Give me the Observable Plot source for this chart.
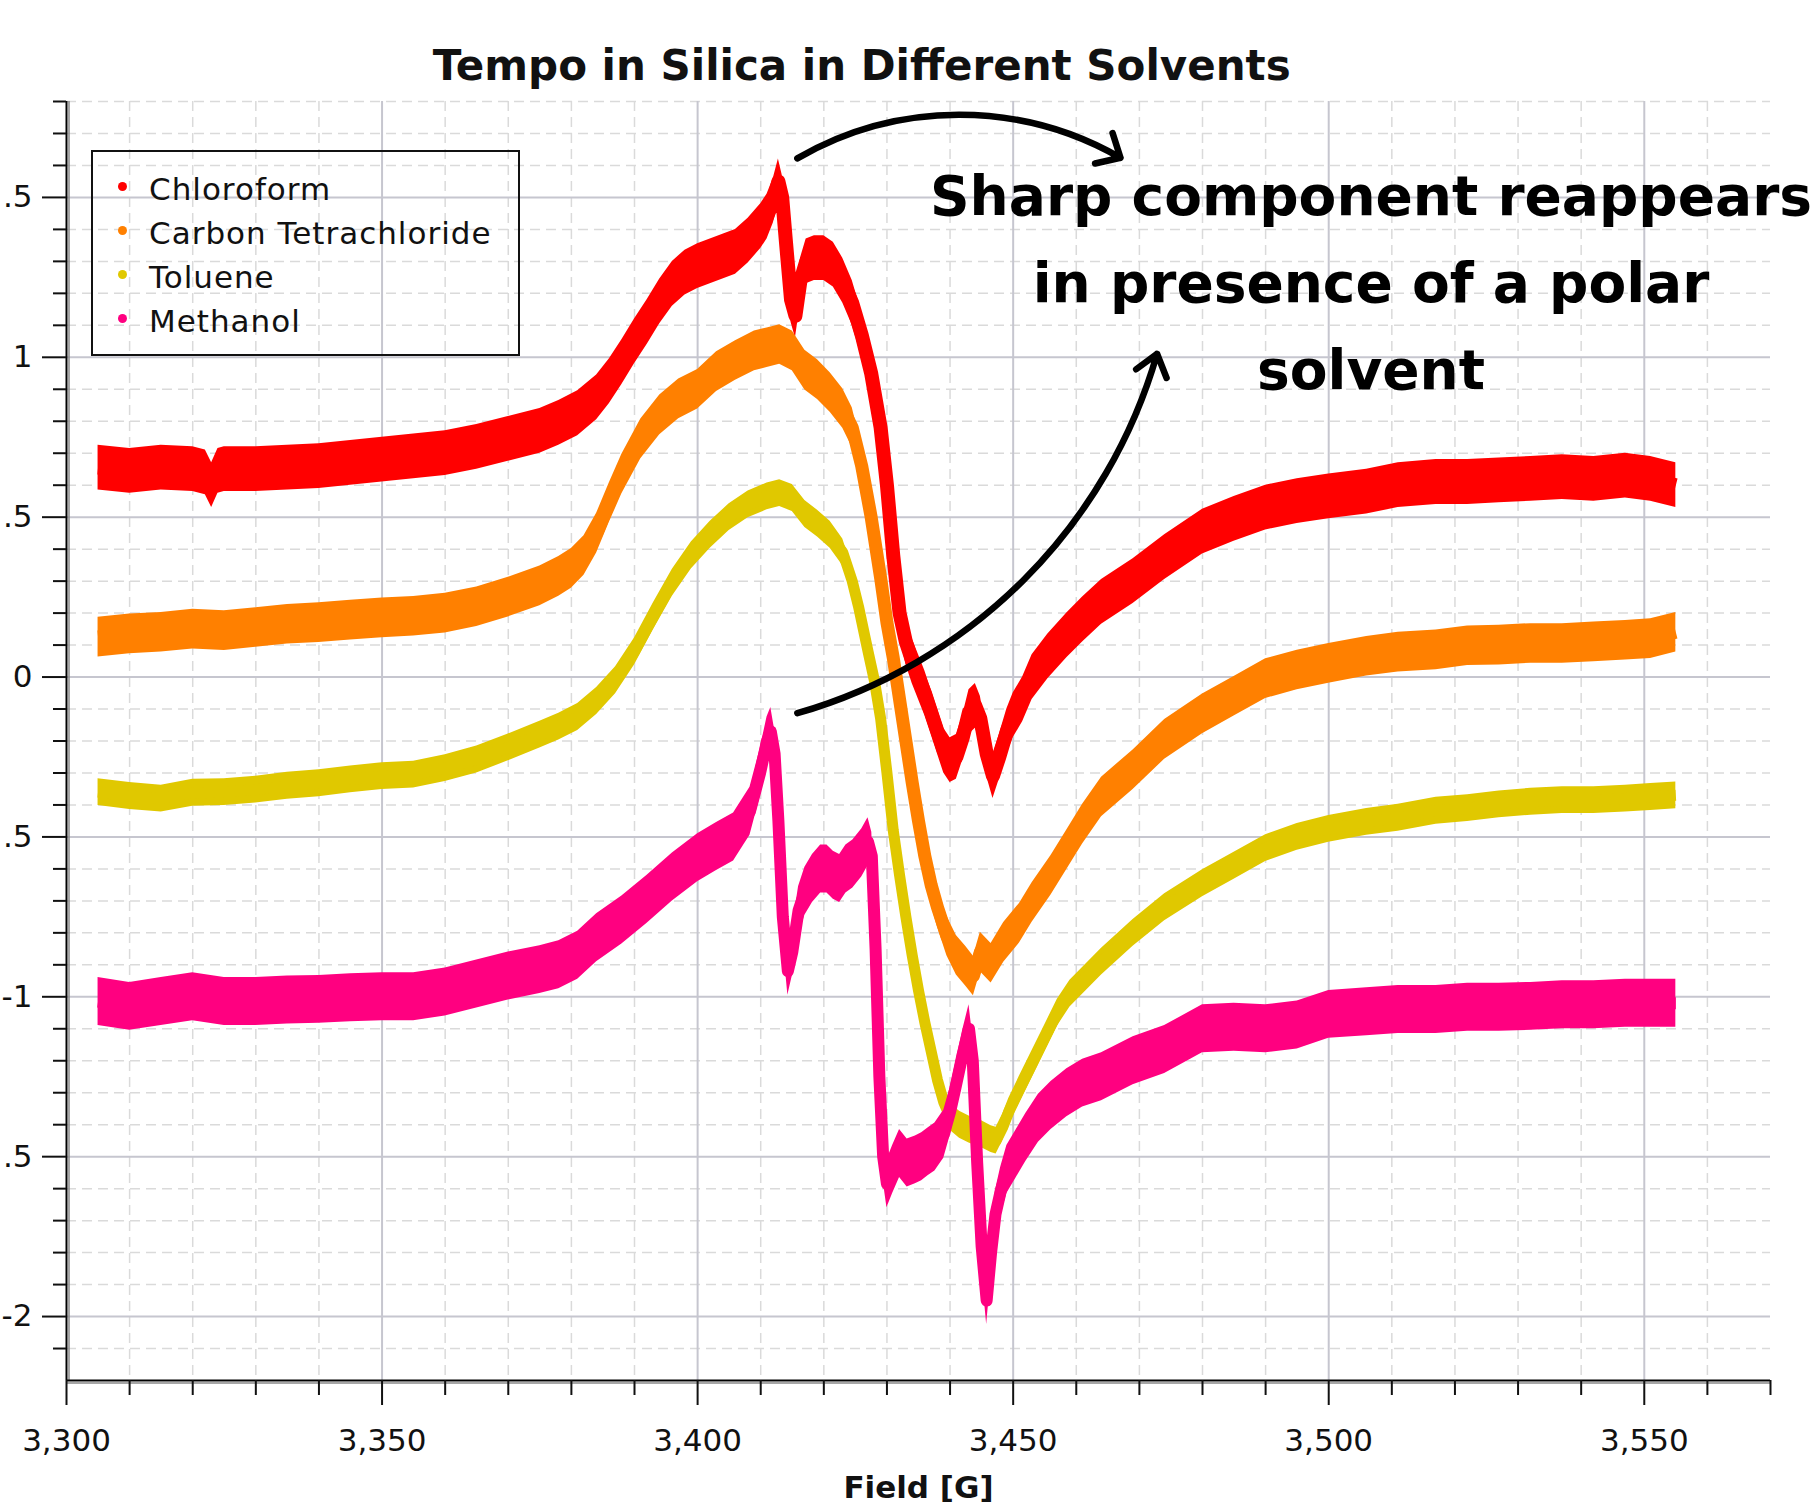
<!DOCTYPE html>
<html>
<head>
<meta charset="utf-8">
<script src="https://cdn.jsdelivr.net/npm/d3@7"></script>
<script src="https://cdn.jsdelivr.net/npm/@observablehq/plot@0.6"></script>
<style>
  html, body { margin: 0; padding: 0; background: #fff; }
  #wrap { position: relative; width: 1816px; height: 1507px; overflow: hidden; background: #fff; }
  #legend { position: absolute; left: 91px; top: 150px; width: 429px; height: 206px; box-sizing: border-box;
            border: 2px solid #111; padding-top: 15px; }
  #legend .item { position: relative; height: 44px; line-height: 44px; padding-left: 56px;
                  font-family: "DejaVu Sans"; font-size: 31px; letter-spacing: 1px; color: #111; white-space: nowrap; }
  #legend .dot { position: absolute; left: 25px; top: 14.5px; width: 9px; height: 9px; border-radius: 50%; }
</style>
</head>
<body>
<div id="wrap"></div>
<script>
// ---------- data (Field [G], signal) ----------
const solvents = ["Chloroform", "Carbon Tetrachloride", "Toluene", "Methanol"];
const colors = ["#ff0000", "#ff8000", "#e0c800", "#ff0080"];
// half thickness of the noise band of each trace (signal units)
const noiseHalfWidth = [0.070, 0.062, 0.042, 0.075];

const chloroform = [[3305,0.655],[3310,0.645],[3315,0.655],[3320,0.65],[3322,0.64],[3323,0.60],[3324,0.645],[3325,0.65],[3330,0.65],[3335,0.655],[3340,0.66],[3345,0.67],[3350,0.68],[3355,0.69],[3360,0.70],[3365,0.72],[3370,0.745],[3375,0.77],[3378,0.795],[3381,0.825],[3384,0.875],[3386,0.925],[3388,0.985],[3390,1.05],[3392,1.11],[3394,1.175],[3396,1.23],[3398,1.265],[3400,1.285],[3402,1.30],[3404,1.315],[3406,1.33],[3408,1.365],[3410,1.41],[3411,1.44],[3412,1.49],[3412.8,1.55],[3413.4,1.50],[3414,1.36],[3414.8,1.18],[3415.5,1.13],[3416.3,1.24],[3417.2,1.30],[3418.5,1.31],[3420,1.31],[3421.5,1.29],[3423,1.24],[3424.5,1.17],[3426,1.07],[3427.5,0.95],[3429,0.78],[3430,0.60],[3431,0.38],[3432,0.20],[3433,0.11],[3434,0.05],[3435,0.0],[3436,-0.05],[3437,-0.11],[3438,-0.17],[3439,-0.23],[3440,-0.26],[3441,-0.25],[3442,-0.19],[3443,-0.11],[3444,-0.09],[3444.8,-0.13],[3445.8,-0.24],[3446.8,-0.31],[3447.8,-0.25],[3449,-0.17],[3450,-0.12],[3451.5,-0.07],[3453,0.0],[3455.5,0.065],[3458.5,0.13],[3461,0.18],[3464,0.235],[3469,0.30],[3474,0.375],[3480,0.455],[3485,0.495],[3490,0.53],[3495,0.55],[3500,0.565],[3506,0.58],[3511,0.60],[3517,0.61],[3522,0.61],[3527,0.615],[3532,0.62],[3537,0.625],[3542,0.62],[3547,0.63],[3551,0.62],[3555,0.60]];

const carbonTetrachloride = [[3305,0.125],[3310,0.135],[3315,0.14],[3320,0.15],[3325,0.145],[3330,0.155],[3335,0.165],[3340,0.17],[3345,0.178],[3350,0.185],[3355,0.19],[3360,0.20],[3365,0.22],[3370,0.25],[3375,0.285],[3378,0.315],[3380,0.34],[3382,0.38],[3384,0.45],[3386,0.545],[3388,0.635],[3391,0.745],[3394,0.82],[3397,0.87],[3400,0.90],[3403,0.955],[3406,0.99],[3409,1.02],[3411,1.03],[3413,1.04],[3415,1.02],[3417,0.96],[3419,0.93],[3421,0.89],[3423,0.84],[3424.5,0.78],[3426,0.66],[3427.5,0.50],[3429,0.31],[3430,0.17],[3431,0.06],[3432,-0.07],[3433,-0.2],[3434,-0.33],[3435,-0.45],[3436,-0.56],[3437,-0.65],[3438,-0.72],[3439.5,-0.81],[3441,-0.87],[3442.5,-0.905],[3443.7,-0.935],[3444.8,-0.86],[3446.5,-0.895],[3448.5,-0.83],[3451,-0.77],[3453,-0.705],[3456,-0.62],[3458.5,-0.54],[3461,-0.46],[3464,-0.375],[3469,-0.29],[3474,-0.195],[3480,-0.115],[3485,-0.06],[3490,-0.005],[3495,0.022],[3500,0.043],[3506,0.065],[3511,0.078],[3517,0.085],[3522,0.098],[3527,0.10],[3532,0.105],[3537,0.105],[3542,0.11],[3547,0.115],[3551,0.12],[3555,0.14]];

const toluene = [[3305,-0.36],[3310,-0.372],[3315,-0.38],[3320,-0.362],[3325,-0.36],[3330,-0.352],[3335,-0.34],[3340,-0.332],[3345,-0.32],[3350,-0.31],[3355,-0.305],[3360,-0.285],[3365,-0.258],[3370,-0.22],[3375,-0.18],[3378,-0.155],[3381,-0.125],[3384,-0.075],[3387,-0.01],[3390,0.08],[3393,0.19],[3396,0.295],[3399,0.38],[3402,0.445],[3405,0.50],[3408,0.54],[3411,0.565],[3413,0.575],[3415,0.56],[3417,0.51],[3419,0.48],[3421,0.445],[3423,0.39],[3424.5,0.30],[3425.5,0.22],[3427,0.08],[3428,-0.01],[3429,-0.13],[3430,-0.30],[3431,-0.48],[3432,-0.62],[3433,-0.75],[3434,-0.87],[3435,-0.98],[3436,-1.08],[3437,-1.17],[3438,-1.26],[3439,-1.33],[3440,-1.375],[3441.5,-1.40],[3443,-1.415],[3445,-1.43],[3446.5,-1.445],[3447.3,-1.45],[3448.3,-1.41],[3449.3,-1.36],[3451,-1.29],[3453,-1.21],[3455,-1.13],[3457,-1.05],[3459,-0.99],[3461.5,-0.94],[3464,-0.89],[3469,-0.80],[3474,-0.72],[3480,-0.645],[3485,-0.59],[3490,-0.535],[3495,-0.50],[3500,-0.475],[3506,-0.453],[3511,-0.44],[3517,-0.418],[3522,-0.41],[3527,-0.398],[3532,-0.39],[3537,-0.385],[3542,-0.385],[3547,-0.38],[3551,-0.375],[3555,-0.37]];

const methanol = [[3305,-1.015],[3310,-1.03],[3315,-1.015],[3320,-1.0],[3325,-1.015],[3330,-1.015],[3335,-1.01],[3340,-1.008],[3345,-1.003],[3350,-1.0],[3355,-1.0],[3360,-0.985],[3365,-0.96],[3370,-0.935],[3375,-0.915],[3378,-0.9],[3381,-0.87],[3384,-0.815],[3388,-0.76],[3392,-0.695],[3396,-0.625],[3400,-0.565],[3403,-0.53],[3405.7,-0.50],[3408.3,-0.42],[3409.9,-0.30],[3411,-0.20],[3411.6,-0.17],[3412.2,-0.24],[3412.8,-0.45],[3413.5,-0.75],[3414.3,-0.92],[3415,-0.86],[3416,-0.73],[3417,-0.67],[3418.2,-0.63],[3419.5,-0.60],[3420.5,-0.60],[3421.5,-0.62],[3422.5,-0.63],[3423.5,-0.60],[3424.6,-0.585],[3426,-0.55],[3427,-0.515],[3427.6,-0.56],[3428.2,-0.85],[3428.8,-1.25],[3429.4,-1.50],[3430,-1.585],[3430.9,-1.54],[3432,-1.49],[3433.2,-1.52],[3434.5,-1.51],[3435.5,-1.50],[3436.5,-1.485],[3437.6,-1.47],[3439,-1.43],[3440,-1.36],[3440.8,-1.29],[3442,-1.18],[3443,-1.10],[3443.6,-1.20],[3444.3,-1.52],[3445,-1.78],[3445.8,-1.95],[3446.5,-1.80],[3447.2,-1.68],[3448,-1.61],[3449,-1.54],[3450.5,-1.49],[3452,-1.44],[3454,-1.38],[3456,-1.34],[3458.5,-1.30],[3461,-1.27],[3464,-1.25],[3469,-1.20],[3474,-1.165],[3480,-1.10],[3485,-1.095],[3490,-1.10],[3495,-1.088],[3500,-1.055],[3506,-1.047],[3511,-1.04],[3517,-1.04],[3522,-1.033],[3527,-1.033],[3532,-1.03],[3537,-1.025],[3542,-1.025],[3547,-1.02],[3551,-1.02],[3555,-1.02]];

const xTicks = [3300, 3350, 3400, 3450, 3500, 3550];
const yTicks = [-2, -1.5, -1, -0.5, 0, 0.5, 1, 1.5];
// the tick labels as they appear in the (left-cropped) picture
const yTickLabels = ["-2", ".5", "-1", ".5", "0", ".5", "1", ".5"];
const xMinor = d3.range(3310, 3571, 10).filter(v => v % 50 !== 0);
const yMinor = d3.range(-21, 19).filter(i => i % 5 !== 0).map(i => i / 10);

const titleText = [{text: "Tempo in Silica in Different Solvents", x: 3426}];
const annotation = [{text: "Sharp component reappears\nin presence of a polar\nsolvent", x: 3506.7, y: 1.638}];
const arrowTop = [{x1: 3415.8, y1: 1.622, x2: 3467.0, y2: 1.624}];
const arrowBottom = [{x1: 3415.8, y1: -0.113, x2: 3472.8, y2: 1.011}];

// ---------- styles ----------
const lineWidths = [14, 13, 11, 12];
const seriesData = [chloroform, carbonTetrachloride, toluene, methanol];

const marks = [
  Plot.ruleY(yMinor, {stroke: "#dadada", strokeWidth: 1.5, strokeDasharray: "10,6"}),
  Plot.ruleX(xMinor.filter(v => v < 3570), {stroke: "#dadada", strokeWidth: 1.5, strokeDasharray: "10,6"}),
  Plot.ruleY(yTicks, {stroke: "#c6c6cf", strokeWidth: 2}),
  Plot.ruleX(xTicks.filter(v => v > 3300), {stroke: "#c6c6cf", strokeWidth: 2})
];

seriesData.forEach((pts, i) => {
  const rows = pts.map(([field, signal]) => ({field, signal, solvent: solvents[i]}));
  marks.push(Plot.areaY(rows, {x: "field", y1: d => d.signal - noiseHalfWidth[i], y2: d => d.signal + noiseHalfWidth[i], fill: colors[i]}));
  marks.push(Plot.line(rows, {x: "field", y: "signal", stroke: colors[i], strokeWidth: lineWidths[i], strokeLinecap: "butt"}));
});

marks.push(
  // axis lines
  Plot.ruleX([3300], {stroke: "#888", strokeWidth: 1.5, dx: 2.5}),
  Plot.ruleX([3300], {stroke: "#000", strokeWidth: 2}),
  Plot.ruleY([-2.2], {stroke: "#888", strokeWidth: 1.5, dy: 2.5}),
  Plot.ruleY([-2.2], {stroke: "#000", strokeWidth: 2}),
  // ticks
  Plot.axisX({ticks: xTicks, tickSize: 25, tickPadding: 23, tickFormat: d3.format(","), strokeWidth: 2, label: null, fontSize: 31}),
  Plot.axisX({ticks: xMinor, tickSize: 15, tickFormat: () => "", strokeWidth: 2, label: null}),
  Plot.axisY({ticks: yTicks, tickSize: 24, tickPadding: 10, tickFormat: d => yTickLabels[yTicks.indexOf(d)], strokeWidth: 2, label: null, fontSize: 31}),
  Plot.axisY({ticks: yMinor, tickSize: 13, tickFormat: () => "", strokeWidth: 2, label: null}),
  // titles
  Plot.text(titleText, {x: "x", text: "text", frameAnchor: "top", lineAnchor: "bottom", dy: -22,
    fontSize: 42, fontWeight: "bold", fill: "#111"}),
  Plot.text(["Field [G]"], {text: d => d, frameAnchor: "bottom", lineAnchor: "bottom", dy: 117,
    fontSize: 31, fontWeight: "bold", fill: "#111"}),
  // annotation
  Plot.arrow(arrowTop, {x1: "x1", y1: "y1", x2: "x2", y2: "y2", bend: 30, stroke: "#000", strokeWidth: 6.5, headLength: 6, headAngle: 85}),
  Plot.arrow(arrowBottom, {x1: "x1", y1: "y1", x2: "x2", y2: "y2", bend: -29, stroke: "#000", strokeWidth: 6.5, headLength: 6, headAngle: 75}),
  Plot.text(annotation, {x: "x", y: "y", text: "text", lineAnchor: "top", lineHeight: 1.58,
    fontSize: 55, fontWeight: "bold", fontFamily: "DejaVu Sans", fill: "#000"})
);

const chart = Plot.plot({
  width: 1816,
  height: 1507,
  marginLeft: 66,
  marginRight: 46,
  marginTop: 101,
  marginBottom: 127,
  x: {domain: [3300, 3570]},
  y: {domain: [-2.2, 1.8]},
  style: {fontFamily: "DejaVu Sans", fontSize: "31px", color: "#111", background: "#fff"},
  marks
});

const wrap = document.getElementById("wrap");
wrap.appendChild(chart);

// legend
const legend = document.createElement("div");
legend.id = "legend";
solvents.forEach((name, i) => {
  const item = document.createElement("div");
  item.className = "item";
  const dot = document.createElement("span");
  dot.className = "dot";
  dot.style.background = colors[i];
  item.appendChild(dot);
  item.appendChild(document.createTextNode(name));
  legend.appendChild(item);
});
wrap.appendChild(legend);
</script>
</body>
</html>
